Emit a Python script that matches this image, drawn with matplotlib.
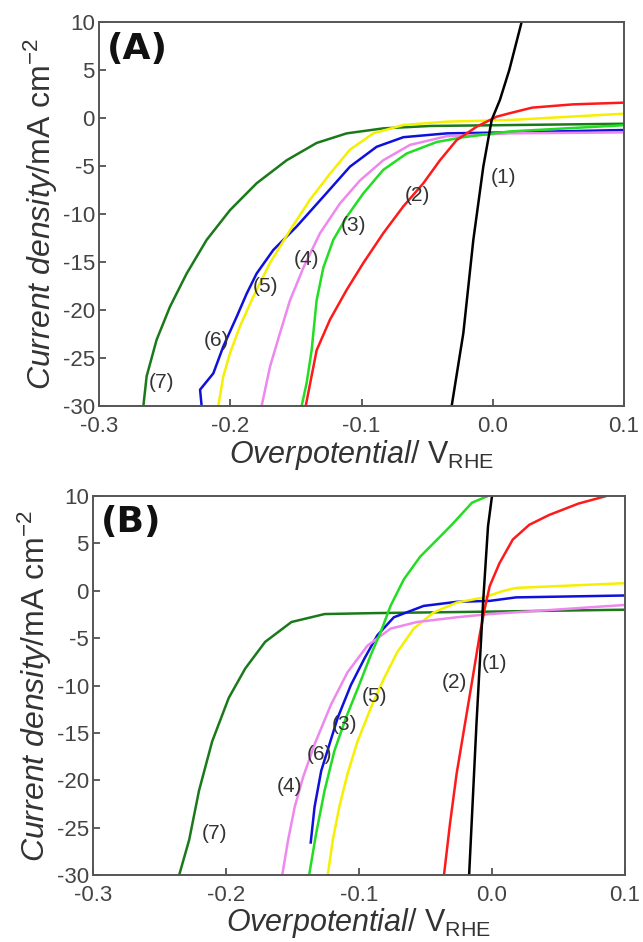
import matplotlib
matplotlib.use("Agg")
import matplotlib.pyplot as plt

plt.rcParams['font.family'] = ['Liberation Sans', 'DejaVu Sans']
plt.rcParams['mathtext.fontset'] = 'custom'
plt.rcParams['mathtext.rm'] = 'Liberation Sans'
plt.rcParams['mathtext.it'] = 'Liberation Sans:italic'

colors = ['#000000', '#ff1a1a', '#22dd22', '#ee88ee', '#f5f000', '#1010dd', '#1a7a1a']
curve_labels = ['(1)', '(2)', '(3)', '(4)', '(5)', '(6)', '(7)']

# ---- Panel A data: (overpotential / V, current density / mA cm-2) ----
a1_x = [-0.0313, -0.0224, -0.0148, -0.0072, -0.0008, 0.0055, 0.0126, 0.022]
a1_y = [-30, -22.4, -12.7, -5.07, -0.2, 1.9, 5, 10]
a2_x = [-0.1425, -0.1342, -0.124, -0.1113, -0.0986, -0.0834, -0.0681, -0.0529, -0.0402,
        -0.0275, -0.0122, 0.003, 0.013, 0.03, 0.061, 0.1]
a2_y = [-30, -24.2, -21.0, -17.9, -15.1, -12.0, -9.2, -6.8, -4.4,
        -2.3, -0.9, 0.14, 0.5, 1.08, 1.42, 1.6]
a3_x = [-0.1456, -0.1418, -0.138, -0.1342, -0.1291, -0.1215, -0.1113, -0.0986, -0.0834,
        -0.0656, -0.0427, -0.0224, 0.013, 0.1]
a3_y = [-30, -27.6, -24.2, -19.0, -15.6, -12.7, -10.3, -7.85, -5.4,
        -3.7, -2.5, -2.0, -1.4, -0.75]
a4_x = [-0.1761, -0.1697, -0.1621, -0.1545, -0.1443, -0.1316, -0.1164, -0.1011, -0.0834,
        -0.063, -0.035, 0.013, 0.1]
a4_y = [-30, -25.9, -22.4, -19.0, -15.6, -12.0, -8.9, -6.5, -4.4,
        -2.8, -1.9, -1.6, -1.5]
a5_x = [-0.2091, -0.2053, -0.2002, -0.1926, -0.1824, -0.1697, -0.1545, -0.1392, -0.124,
        -0.1088, -0.091, -0.0681, -0.035, 0.0131, 0.1]
a5_y = [-30, -26.9, -24.5, -21.7, -18.6, -15.1, -11.7, -8.5, -5.8,
        -3.3, -1.6, -0.73, -0.38, -0.21, 0.45]
a6_x = [-0.2218, -0.223, -0.2129, -0.2053, -0.1951, -0.1875, -0.1799, -0.1672, -0.1494,
        -0.1291, -0.1088, -0.0885, -0.0681, -0.035, 0.013, 0.1]
a6_y = [-30, -28.3, -26.6, -23.8, -20.7, -18.3, -16.2, -13.75, -11.3,
        -8.2, -5.07, -3.0, -2.0, -1.6, -1.5, -1.25]
a7_x = [-0.2662, -0.2637, -0.2561, -0.2459, -0.2332, -0.218, -0.2002, -0.1799, -0.157,
        -0.1342, -0.1113, -0.0834, -0.0478, 0.1]
a7_y = [-30, -26.9, -23.1, -19.65, -16.2, -12.7, -9.6, -6.8, -4.4,
        -2.6, -1.6, -1.08, -0.83, -0.6]
a_label_x = [0.008, -0.0576, -0.106, -0.142, -0.173, -0.2103, -0.2526]
a_label_y = [-6.2, -8.1, -11.2, -14.7, -17.6, -23.2, -27.6]

# ---- Panel B data ----
b1_x = [-0.0172, -0.0117, -0.0067, -0.003, 0.0]
b1_y = [-30, -14.1, -1.25, 6.8, 10]
b2_x = [-0.0361, -0.0316, -0.0266, -0.0204, -0.0142, -0.0093, -0.0055, -0.0017, 0.0056,
        0.0156, 0.028, 0.043, 0.065, 0.086]
b2_y = [-30, -24.6, -19.3, -14.1, -8.9, -4.7, -1.9, 0.5, 2.9,
        5.4, 6.96, 8.0, 9.2, 10]
b3_x = [-0.1375, -0.1322, -0.1259, -0.1185, -0.1098, -0.0999, -0.0912, -0.0838, -0.0763,
        -0.0663, -0.054, -0.0391, -0.0300, -0.015, -0.003]
b3_y = [-30, -25.6, -21.1, -16.9, -13.4, -9.95, -6.8, -4.4, -1.6,
        1.2, 3.6, 5.7, 7.0, 9.3, 10]
b4_x = [-0.1577, -0.1533, -0.1483, -0.1421, -0.1334, -0.121, -0.1086, -0.0937, -0.0763,
        -0.0564, -0.0266, -0.0017, 0.1]
b4_y = [-30, -26.3, -22.8, -19.7, -16.2, -12.0, -8.6, -5.8, -4.0,
        -3.3, -2.8, -2.46, -1.5]
b5_x = [-0.1235, -0.1197, -0.1148, -0.1086, -0.1011, -0.0912, -0.0812, -0.0713, -0.0589,
        -0.044, -0.0266, -0.0067, 0.0082, 0.018, 0.1]
b5_y = [-30, -26.3, -22.8, -19.3, -15.9, -12.4, -9.25, -6.5, -4.0,
        -2.3, -1.25, -0.72, -0.03, 0.3, 0.8]
b6_x = [-0.1364, -0.1334, -0.1284, -0.1222, -0.116, -0.1061, -0.0961, -0.0862, -0.0738,
        -0.0514, -0.0266, -0.0017, 0.018, 0.1]
b6_y = [-26.7, -22.8, -19.0, -16.2, -13.4, -9.95, -7.2, -4.7, -2.8,
        -1.6, -1.17, -1.07, -0.7, -0.5]
b7_x = [-0.2352, -0.2277, -0.2203, -0.2104, -0.1979, -0.1855, -0.1706, -0.1508, -0.1259,
        -0.0887, 0.0, 0.1]
b7_y = [-30, -26.3, -21.1, -15.9, -11.3, -8.2, -5.4, -3.3, -2.46,
        -2.36, -2.2, -2.0]
b_label_x = [0.0019, -0.0284, -0.111, -0.152, -0.0887, -0.1297, -0.2084]
b_label_y = [-7.7, -9.7, -14.1, -20.7, -11.2, -17.3, -25.6]

x_ticks = [-0.3, -0.2, -0.1, 0.0, 0.1]
x_ticklabels = ['-0.3', '-0.2', '-0.1', '0.0', '0.1']
y_ticks = [10, 5, 0, -5, -10, -15, -20, -25, -30]
y_ticklabels = ['10', '5', '0', '-5', '-10', '-15', '-20', '-25', '-30']

panels = [
    dict(rect=[99/643, 1-406/942, 525/643, 384/942], tag='(A)', xpad=7, lpad=1,
         xs=[a1_x, a2_x, a3_x, a4_x, a5_x, a6_x, a7_x],
         ys=[a1_y, a2_y, a3_y, a4_y, a5_y, a6_y, a7_y],
         lx=a_label_x, ly=a_label_y),
    dict(rect=[93/643, 1-875/942, 532/643, 379/942], tag='(B)', xpad=7, lpad=0,
         xs=[b1_x, b2_x, b3_x, b4_x, b5_x, b6_x, b7_x],
         ys=[b1_y, b2_y, b3_y, b4_y, b5_y, b6_y, b7_y],
         lx=b_label_x, ly=b_label_y),
]

fig = plt.figure(figsize=(6.43, 9.42), dpi=100)
for p in panels:
    ax = fig.add_axes(p['rect'])
    for i in [6, 5, 4, 3, 2, 1, 0]:
        ax.plot(p['xs'][i], p['ys'][i], color=colors[i], lw=1.8,
                solid_joinstyle='round', solid_capstyle='butt')
    for i in range(7):
        ax.text(p['lx'][i], p['ly'][i], curve_labels[i], fontsize=15, color='#333333',
                ha='center', va='center')
    ax.set_xlim(-0.3, 0.1)
    ax.set_ylim(-30, 10)
    ax.set_xticks(x_ticks)
    ax.set_xticklabels(x_ticklabels)
    ax.set_yticks(y_ticks)
    ax.set_yticklabels(y_ticklabels)
    ax.tick_params(direction='in', length=5, width=1.2, labelsize=16, colors='#444444',
                   top=False, right=False)
    ax.tick_params(axis='y', pad=3)
    ax.tick_params(axis='x', pad=p['xpad'])
    for s in ax.spines.values():
        s.set_color('#555555')
        s.set_linewidth(1.4)
    ax.set_ylabel(r'$\mathit{Current\ density}$/mA cm$^{-2}$', fontsize=23,
                  color='#333333', labelpad=2)
    ax.set_xlabel(r'$\mathit{Overpotential}$/ V$_{\mathrm{RHE}}$', fontsize=22,
                  color='#333333', labelpad=p['lpad'])
    ax.text(0.015, 0.975, p['tag'], transform=ax.transAxes, fontsize=26, fontweight='bold',
            family='DejaVu Sans', color='#111111', ha='left', va='top')

fig.savefig('out.png', dpi=100)
